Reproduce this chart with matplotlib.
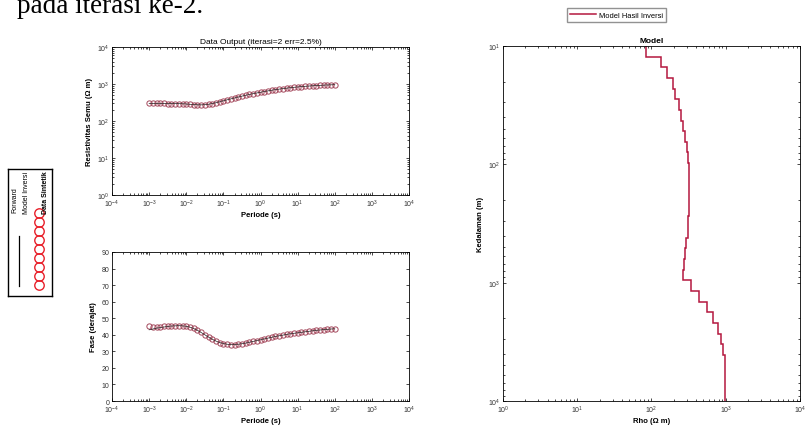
import matplotlib
matplotlib.use('Agg')
import matplotlib.pyplot as plt
from matplotlib.ticker import LogLocator, NullFormatter, FixedLocator

plt.rcParams['font.family'] = ['Liberation Sans', 'DejaVu Sans']
plt.rcParams['mathtext.default'] = 'regular'

# periods (s)
period = [0.001, 0.00126, 0.00158, 0.002, 0.00251, 0.00316, 0.00398, 0.00501, 0.00631, 0.00794,
          0.01, 0.0126, 0.0158, 0.02, 0.0251, 0.0316, 0.0398, 0.0501, 0.0631, 0.0794,
          0.1, 0.126, 0.158, 0.2, 0.251, 0.316, 0.398, 0.501, 0.631, 0.794,
          1.0, 1.26, 1.58, 2.0, 2.51, 3.16, 3.98, 5.01, 6.31, 7.94,
          10.0, 12.6, 15.8, 20.0, 25.1, 31.6, 39.8, 50.1, 63.1, 79.4, 100.0]

# apparent resistivity, synthetic data and inversion response
rho_data = [300, 300, 299, 299, 298, 297, 296, 295, 294, 292,
            288, 283, 278, 274, 273, 276, 284, 296, 312, 331,
            352, 374, 396, 420, 445, 470, 496, 522, 548, 573,
            597, 625, 652, 678, 703, 727, 750, 772, 793, 813,
            832, 850, 866, 881, 895, 908, 920, 931, 941, 950, 958]
rho_calc = [299, 299, 299, 299, 298, 297, 296, 295, 294, 292,
            288, 283, 278, 274, 273, 276, 284, 296, 312, 331,
            352, 374, 396, 420, 445, 470, 496, 522, 548, 573,
            597, 625, 652, 678, 703, 727, 750, 772, 793, 813,
            832, 850, 866, 881, 895, 908, 920, 931, 941, 950, 958]

# phase (degrees)
phase_data = [45.2, 45.0, 45.0, 45.0, 45.1, 45.2, 45.3, 45.4, 45.5, 45.4,
              45.1, 44.6, 43.8, 42.7, 41.4, 40.0, 38.6, 37.3, 36.2, 35.3,
              34.7, 34.3, 34.1, 34.1, 34.3, 34.6, 35.0, 35.5, 36.0, 36.5,
              37.0, 37.5, 38.0, 38.5, 39.0, 39.4, 39.8, 40.2, 40.6, 40.9,
              41.2, 41.5, 41.8, 42.1, 42.4, 42.7, 42.9, 43.1, 43.3, 43.5, 43.6]
phase_calc = [43.0, 43.5, 44.0, 44.4, 44.7, 45.0, 45.3, 45.4, 45.5, 45.4,
              45.1, 44.6, 43.8, 42.7, 41.4, 40.0, 38.6, 37.3, 36.2, 35.3,
              34.7, 34.3, 34.1, 34.1, 34.3, 34.6, 35.0, 35.5, 36.0, 36.5,
              37.0, 37.5, 38.0, 38.5, 39.0, 39.4, 39.8, 40.2, 40.6, 40.9,
              41.2, 41.5, 41.8, 42.1, 42.4, 42.7, 42.9, 43.1, 43.3, 43.5, 43.6]

# layered model: depth edges (m) and resistivity per layer (ohm m)
depth_edges = [10, 12.3, 15.1, 18.6, 22.9, 28.2, 34.7, 42.7, 52.5, 64.6, 79.4,
               97.7, 120, 148, 182, 224, 275, 339, 417, 513, 631,
               776, 955, 1175, 1445, 1778, 2188, 2692, 3311, 4074, 10000]
rho_layers = [84, 133, 163, 193, 209, 232, 252, 268, 285, 300,
              313, 318, 322, 324, 323, 320, 314, 306, 296, 285,
              272, 270, 340, 432, 554, 667, 779, 855, 918, 980]

fig = plt.figure(figsize=(8.06, 4.27), dpi=100)

circ_col = '#a4485c'
model_col = '#b4183e'
tick_fs = 5
lab_fs = 5.5


def style(ax):
    ax.tick_params(which='both', direction='in', top=True, right=True,
                   labelsize=tick_fs, labelcolor='#333333', width=0.5, pad=2)
    ax.tick_params(which='major', length=2.5)
    ax.tick_params(which='minor', length=1.4)
    for s in ax.spines.values():
        s.set_linewidth(0.6)


def log_x(ax, lo, hi):
    ax.set_xscale('log')
    ax.set_xlim(10.0 ** lo, 10.0 ** hi)
    ax.xaxis.set_major_locator(FixedLocator([10.0 ** k for k in range(lo, hi + 1)]))
    ax.xaxis.set_minor_locator(LogLocator(base=10, subs=range(2, 10), numticks=100))
    ax.xaxis.set_minor_formatter(NullFormatter())


# top left: apparent resistivity
ax1 = fig.add_axes([0.139, 0.541, 0.3685, 0.3466])
ax1.plot(period, rho_data, 'o', mfc='none', mec=circ_col, ms=3.8, mew=0.7)
ax1.plot(period, rho_calc, '-', color='#222222', lw=0.5)
log_x(ax1, -4, 4)
ax1.set_yscale('log')
ax1.set_ylim(1, 1e4)
ax1.yaxis.set_major_locator(FixedLocator([1, 10, 100, 1000, 10000]))
ax1.yaxis.set_minor_locator(LogLocator(base=10, subs=range(2, 10), numticks=100))
ax1.yaxis.set_minor_formatter(NullFormatter())
style(ax1)
ax1.set_xlabel('Periode (s)', fontsize=lab_fs, fontweight='bold', labelpad=1.5)
ax1.set_ylabel('Resistivitas Semu (\u03a9 m)', fontsize=lab_fs, fontweight='bold', labelpad=3)
ax1.set_title('Data Output (iterasi=2 err=2.5%)', fontsize=6, pad=3)

# bottom left: phase
ax2 = fig.add_axes([0.139, 0.0585, 0.3685, 0.349])
ax2.plot(period, phase_data, 'o', mfc='none', mec=circ_col, ms=3.8, mew=0.7)
ax2.plot(period, phase_calc, '-', color='#222222', lw=0.5)
log_x(ax2, -4, 4)
ax2.set_ylim(0, 90)
ax2.set_yticks(range(0, 91, 10))
style(ax2)
ax2.set_xlabel('Periode (s)', fontsize=lab_fs, fontweight='bold', labelpad=1.5)
ax2.set_ylabel('Fase (derajat)', fontsize=lab_fs, fontweight='bold', labelpad=3)

# right: model
ax3 = fig.add_axes([0.624, 0.0585, 0.3685, 0.8314])
ax3.stairs(rho_layers, depth_edges, orientation='horizontal', baseline=None,
           color=model_col, lw=1.1, label='Model Hasil Inversi')
log_x(ax3, 0, 4)
ax3.set_yscale('log')
ax3.set_ylim(1e4, 10)
ax3.yaxis.set_major_locator(FixedLocator([10, 100, 1000, 10000]))
ax3.yaxis.set_minor_locator(LogLocator(base=10, subs=range(2, 10), numticks=100))
ax3.yaxis.set_minor_formatter(NullFormatter())
style(ax3)
ax3.set_xlabel('Rho (\u03a9 m)', fontsize=lab_fs, fontweight='bold', labelpad=1.5)
ax3.set_ylabel('Kedalaman (m)', fontsize=lab_fs, fontweight='bold', labelpad=3)
ax3.set_title('Model', fontsize=6, fontweight='bold', pad=3)
ax3.legend(loc='center', bbox_to_anchor=(0.765, 0.962), bbox_transform=fig.transFigure,
           fontsize=5.4, frameon=True, fancybox=False, edgecolor='#777777',
           handlelength=3.4, borderpad=0.45, handletextpad=0.4)

# rotated legend box on the far left
axl = fig.add_axes([8 / 806, (427 - 297) / 427, 44 / 806, 127 / 427])
axl.set_xlim(0, 44)
axl.set_ylim(127, 0)
axl.set_xticks([])
axl.set_yticks([])
for s in axl.spines.values():
    s.set_linewidth(1.0)
axl.text(7, 17, 'Forward', rotation=90, ha='center', va='top', fontsize=5)
axl.text(19, 2, 'Model Inversi', rotation=90, ha='center', va='top', fontsize=5)
axl.text(37.5, 1, 'Data Sintetik', rotation=90, ha='center', va='top', fontsize=5, fontweight='bold')
axl.plot([11, 11], [67, 117], color='black', lw=0.9)
axl.plot([31] * 9, [44, 53, 62, 71, 80, 89, 98, 107, 116], 'o', mfc='none',
         mec='#e8202a', ms=6.8, mew=1.0)

fig.text(17 / 806, 1 - 13 / 427, 'pada iterasi ke-2.', fontsize=19.5,
         family=['Liberation Serif', 'DejaVu Serif'], ha='left', va='baseline')

fig.savefig('out.png', dpi=100)
